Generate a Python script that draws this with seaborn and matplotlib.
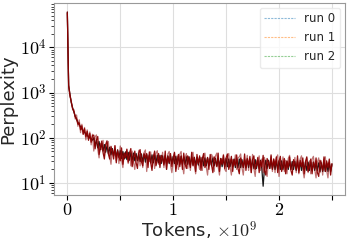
import numpy as np
import pandas as pd
import matplotlib
matplotlib.use("Agg")
import matplotlib.pyplot as plt
import matplotlib.ticker as mticker
from matplotlib.lines import Line2D
import seaborn as sns

# perplexity logged every 12.5M tokens, 0 .. 2.5e9 tokens
run0 = [60000, 1450, 900, 600, 460, 370, 300, 255, 220, 195,
        175, 158, 143, 132, 122, 113, 106, 100, 94, 89,
        100, 66, 90, 60, 83, 55, 76, 51, 71, 48,
        67, 45, 62, 42, 58, 40, 56, 38, 54, 37,
        52, 35, 50, 34, 49, 33, 48, 32, 47, 32,
        46, 31, 45, 31, 44, 30, 44, 30, 43, 29,
        43, 29, 42, 28, 42, 28, 41, 28, 41, 28,
        41, 27, 40, 27, 40, 27, 40, 27, 40, 27,
        39, 27, 39, 26, 39, 26, 39, 26, 38, 26,
        38, 26, 38, 25, 38, 25, 37, 25, 37, 25,
        37, 25, 37, 24, 36, 24, 36, 24, 36, 24,
        36, 24, 35, 24, 35, 23, 35, 23, 35, 23,
        35, 23, 34, 23, 34, 23, 34, 22, 34, 22,
        34, 22, 33, 22, 33, 22, 33, 22, 33, 22,
        33, 21, 33, 21, 32, 21, 32, 21, 8.5, 21,
        32, 21, 32, 21, 31, 21, 31, 20, 31, 20,
        31, 20, 31, 20, 30, 20, 30, 20, 30, 20,
        30, 20, 30, 19, 30, 19, 29, 19, 29, 19,
        29, 19, 29, 19, 29, 19, 29, 19, 28, 19,
        28, 18, 28, 18, 28, 18, 28, 18, 28, 18,
        26]
run1 = [62000, 1300, 820, 650, 420, 420, 260, 320, 180, 250,
        130, 200, 120, 170, 90, 150, 95, 135, 70, 120,
        51, 105, 116, 56, 36, 75, 55, 88, 40, 71,
        74, 83, 40, 26, 55, 42, 67, 31, 55, 27,
        66, 32, 22, 46, 36, 57, 27, 48, 24, 51,
        29, 20, 42, 32, 53, 24, 44, 22, 47, 54,
        18, 40, 30, 49, 23, 42, 21, 45, 52, 26,
        37, 29, 48, 22, 41, 20, 44, 50, 25, 17,
        28, 46, 21, 40, 20, 43, 50, 25, 16, 36,
        45, 21, 38, 19, 42, 48, 24, 16, 35, 27,
        20, 37, 19, 40, 46, 23, 15, 34, 26, 43,
        37, 18, 40, 46, 23, 15, 34, 26, 43, 20,
        18, 39, 45, 23, 15, 33, 26, 42, 20, 36,
        38, 44, 22, 15, 32, 25, 41, 19, 35, 17,
        43, 21, 14, 31, 24, 40, 19, 34, 17, 37,
        21, 14, 31, 24, 39, 18, 34, 17, 36, 42,
        14, 30, 23, 38, 18, 32, 16, 35, 41, 20,
        29, 23, 37, 17, 32, 16, 34, 40, 20, 13,
        22, 36, 17, 31, 16, 34, 39, 20, 13, 29,
        36, 17, 31, 15, 33, 38, 19, 13, 28, 22,
        24]
run2 = [58000, 1450, 900, 610, 450, 380, 290, 265, 200, 215,
        150, 185, 120, 160, 105, 140, 88, 125, 80, 112,
        115, 57, 89, 107, 43, 61, 85, 47, 34, 71,
        86, 44, 34, 65, 50, 34, 67, 28, 51, 38,
        31, 60, 26, 46, 36, 55, 29, 46, 58, 23,
        35, 51, 28, 21, 46, 55, 30, 24, 45, 36,
        45, 22, 49, 28, 19, 38, 51, 24, 31, 45,
        22, 41, 34, 25, 51, 20, 39, 28, 45, 23,
        36, 48, 18, 30, 43, 23, 40, 20, 46, 26,
        21, 40, 32, 22, 48, 24, 37, 18, 43, 27,
        40, 19, 34, 45, 22, 28, 37, 20, 43, 25,
        17, 38, 31, 23, 46, 18, 35, 26, 41, 21,
        36, 44, 20, 27, 39, 18, 33, 24, 42, 21,
        16, 36, 29, 22, 44, 19, 35, 25, 39, 17,
        33, 40, 20, 26, 37, 17, 31, 23, 41, 19,
        15, 35, 28, 21, 42, 20, 34, 24, 38, 17,
        30, 39, 18, 24, 35, 16, 31, 22, 38, 19,
        15, 33, 26, 20, 40, 17, 32, 23, 36, 16,
        30, 38, 18, 23, 34, 16, 29, 21, 36, 17,
        14, 32, 26, 19, 38, 18, 31, 22, 34, 15,
        27]

run_names = ["run 0", "run 1", "run 2"]
line_colors = ["black", "darkred", "darkred"]
line_alphas = [0.9, 0.55, 0.95]
legend_colors = ["tab:blue", "tab:orange", "tab:green"]

df = pd.concat([
    pd.DataFrame({"Tokens": np.linspace(0, 2.5, len(vals)),
                  "Perplexity": vals, "run": name})
    for name, vals in zip(run_names, [run0, run1, run2])
])

sns.set_style("whitegrid", {"axes.edgecolor": "0.6", "grid.color": "0.87",
                            "xtick.bottom": True, "ytick.left": True})
plt.rcParams["mathtext.fontset"] = "cm"
plt.rcParams["font.family"] = ["DejaVu Sans"]

fig, ax = plt.subplots(figsize=(3.49, 2.41), dpi=100)
fig.subplots_adjust(left=0.155, right=0.989, top=0.988, bottom=0.191)

sns.lineplot(data=df, x="Tokens", y="Perplexity", hue="run",
             palette=dict(zip(run_names, line_colors)), linewidth=0.9,
             legend=False, ax=ax)
for line, a in zip(ax.get_lines(), line_alphas):
    line.set_alpha(a)

ax.set_yscale("log")
ax.yaxis.set_major_formatter(mticker.FuncFormatter(
    lambda v, p: f"$10^{{{int(round(np.log10(v)))}}}$"))
ax.xaxis.set_major_locator(mticker.MultipleLocator(0.5))
ax.xaxis.set_major_formatter(mticker.FuncFormatter(
    lambda v, p: f"${v:.0f}$" if abs(v - round(v)) < 1e-6 else ""))
ax.tick_params(axis="both", labelsize=13, length=3.5, width=0.8, colors="black")
ax.tick_params(axis="x", pad=1)
ax.tick_params(axis="y", pad=2)
ax.tick_params(axis="y", which="minor", length=2, width=0.6, left=True)
ax.set_xlabel(r"Tokens, $\times10^9$", fontsize=13, labelpad=0)
ax.set_ylabel("Perplexity", fontsize=13, labelpad=2)

handles = [Line2D([], [], color=c, ls=(0, (2, 1)), lw=0.8, alpha=0.5)
           for c in legend_colors]
ax.legend(handles, run_names, loc="upper right", fontsize=8.5, frameon=True,
          framealpha=0.8, edgecolor="0.9", handlelength=2.6,
          borderaxespad=0.4)

fig.savefig("out.png", dpi=100)
